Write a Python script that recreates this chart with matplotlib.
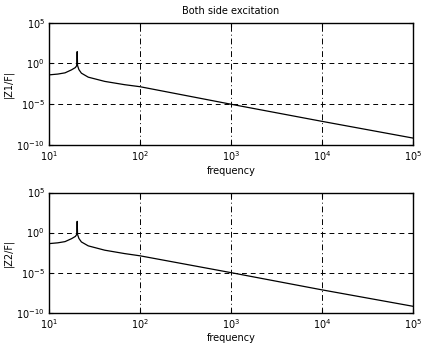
import matplotlib
matplotlib.use("Agg")
import matplotlib.pyplot as plt
import numpy as np

title = "Both side excitation"
xlabel = "frequency"
ylabels = ["|Z1/F|", "|Z2/F|"]

freq = [10, 12.5, 15, 17.7, 19.5, 20.2, 20.4, 20.6, 21.3, 22.7, 27, 41, 67.5, 100, 1000, 10000, 100000]
log_z1 = [-1.40, -1.30, -1.15, -0.78, -0.50, -0.25, 1.45, -0.25, -0.75, -1.19, -1.68, -2.20, -2.60, -2.85, -5.00, -7.10, -9.15]
log_z2 = [-1.38, -1.28, -1.13, -0.76, -0.48, -0.23, 1.40, -0.23, -0.73, -1.17, -1.66, -2.20, -2.62, -2.90, -5.00, -7.15, -9.20]

xticks = [1e1, 1e2, 1e3, 1e4, 1e5]
yticks = [1e-10, 1e-5, 1e0, 1e5]

fig = plt.figure(figsize=(4.23, 3.51), dpi=100)
W, H = 423, 351
boxes = [(49, 22.7, 413, 145), (49, 192.5, 413, 312.7)]
series = [log_z1, log_z2]

for i, (box, lz, yl) in enumerate(zip(boxes, series, ylabels)):
    x0, y0, x1, y1 = box
    ax = fig.add_axes([x0 / W, 1 - y1 / H, (x1 - x0) / W, (y1 - y0) / H])
    ax.loglog(freq, 10.0 ** np.array(lz), color="black", lw=0.9)
    ax.set_xlim(1e1, 1e5)
    ax.set_ylim(1e-10, 1e5)
    ax.set_xticks(xticks)
    ax.set_yticks(yticks)
    ax.minorticks_off()
    ax.grid(True, axis="y", which="major", color="black", linestyle=(0, (5, 4)), lw=0.7)
    ax.grid(True, axis="x", which="major", color="black", linestyle=(0, (6, 3, 1, 3)), lw=0.7)
    ax.tick_params(labelsize=7, length=3, direction="in", top=True, right=True, pad=3)
    for s in ax.spines.values():
        s.set_linewidth(1.0)
    ax.set_xlabel(xlabel, fontsize=7, labelpad=2)
    ax.set_ylabel(yl, fontsize=7, labelpad=2)
    if i == 0:
        ax.set_title(title, fontsize=7, pad=6)

fig.savefig("out.png", dpi=100)
